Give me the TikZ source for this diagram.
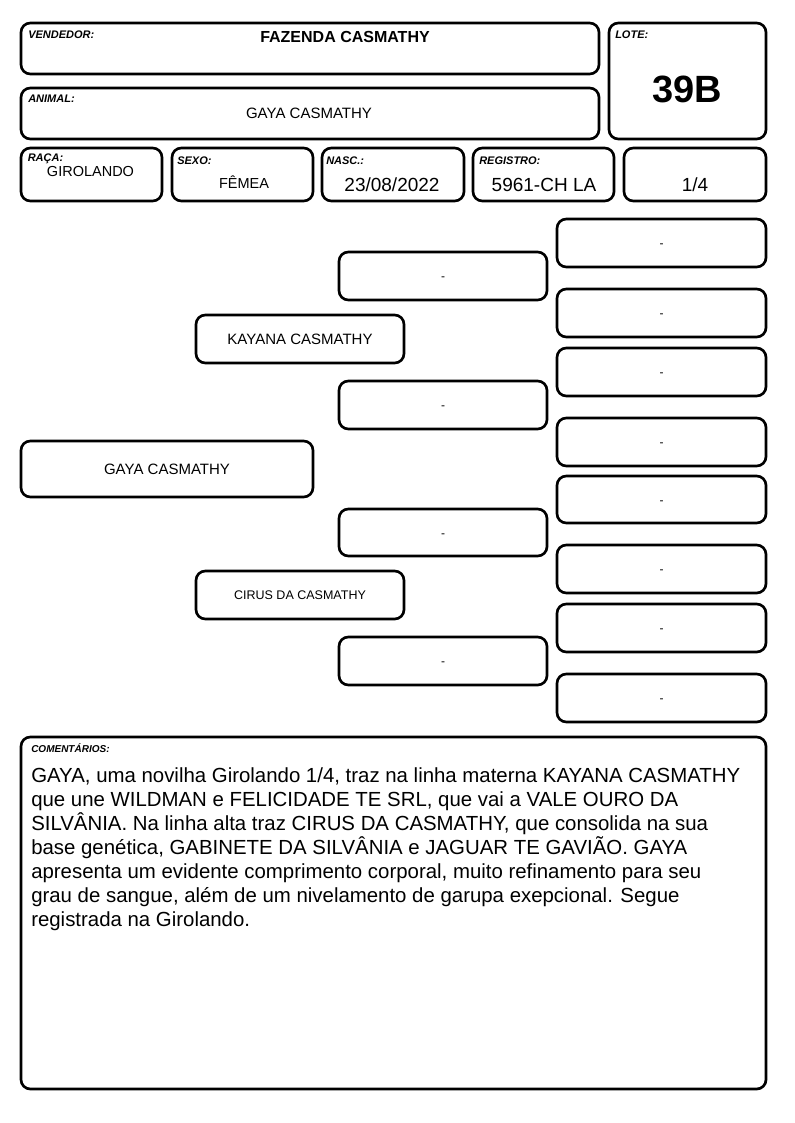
\documentclass[tikz,border=0pt]{standalone}
\usepackage{fontspec}
\setmainfont{Liberation Sans}
\newcommand\pxs[1]{\fontsize{\fpeval{#1*0.75}pt}{\fpeval{#1*0.9}pt}\selectfont}
\tikzset{
  box/.style={draw=black, line width=2pt, rounded corners=7pt},
  lbl/.style={anchor=base west, inner sep=0pt, font=\pxs{11}\bfseries\itshape},
  val/.style={anchor=base, inner sep=0pt, font=\pxs{15}},
  bigval/.style={anchor=base, inner sep=0pt, font=\pxs{19}},
  pedtext/.style={inner sep=0pt, font=\pxs{15}},
  emptyval/.style={anchor=base, inner sep=0pt, font=\pxs{12}},
}
% name, x1, y1, x2, y2, style, text
\newcommand\pedbox[7]{%
  \draw[box] (#2,#3) rectangle (#4,#5);
  \node[#6] (#1) at ({(#2+#4)/2},{(#3+#5)/2}) {#7};}
% empty box: name, x1, y1, x2, y2
\newcommand\emptybox[5]{%
  \draw[box] (#2,#3) rectangle (#4,#5);
  \node[emptyval] (#1) at ({(#2+#4)/2},{(#3+#5)/2+4.7}) {-};}
\begin{document}
\begin{tikzpicture}[x=0.75pt,y=-0.75pt]
\useasboundingbox (0,0) rectangle (794,1123);
% header boxes
\draw[box] (21,23) rectangle (599,74);
\node[lbl] (lvend) at (28,39) {VENDEDOR:};
\node[anchor=base, inner sep=0pt, font=\pxs{16}\bfseries] (vend) at (345,43) {FAZENDA CASMATHY};

\draw[box] (609,23) rectangle (766,139);
\node[lbl] (llote) at (615,39) {LOTE:};
\node[anchor=base, inner sep=0pt, font=\pxs{38}\bfseries] (lote) at (687,103) {39B};

\draw[box] (21,88) rectangle (599,139);
\node[lbl] (lanimal) at (28,103) {ANIMAL:};
\node[val] (animal) at (309,119) {GAYA CASMATHY};

% info row
\draw[box] (21,148) rectangle (162,201);
\node[lbl] (lraca) at (27.5,162) {RAÇA:};
\node[anchor=base, inner sep=0pt, font=\pxs{14.5}] (raca) at (90.5,177) {GIROLANDO};

\draw[box] (172,148) rectangle (313,201);
\node[lbl] (lsexo) at (177,165) {SEXO:};
\node[anchor=base, inner sep=0pt, font=\pxs{14.5}] (sexo) at (244,189) {FÊMEA};

\draw[box] (322,148) rectangle (464,201);
\node[lbl] (lnasc) at (326,165) {NASC.:};
\node[bigval] (nasc) at (392,192) {23/08/2022};

\draw[box] (473,148) rectangle (614,201);
\node[lbl] (lreg) at (479,165) {REGISTRO:};
\node[bigval] (reg) at (544,192) {5961-CH LA};

\draw[box] (624,148) rectangle (766,201);
\node[bigval] (grau) at (695,192) {1/4};

% pedigree
\pedbox{animalp}{21}{441}{313}{497}{pedtext}{GAYA CASMATHY}
\pedbox{mae}{196}{315}{404}{363}{pedtext}{KAYANA CASMATHY}
\pedbox{pai}{196}{571}{404}{619}{inner sep=0pt, font=\pxs{12.5}}{CIRUS DA CASMATHY}

\emptybox{avo1}{339}{252}{547}{300}
\emptybox{avo2}{339}{381}{547}{429}
\emptybox{avo3}{339}{509}{547}{556}
\emptybox{avo4}{339}{637}{547}{685}

\emptybox{bis1}{557}{219}{766}{267}
\emptybox{bis2}{557}{289}{766}{337}
\emptybox{bis3}{557}{348}{766}{396}
\emptybox{bis4}{557}{418}{766}{466}
\emptybox{bis5}{557}{476}{766}{523}
\emptybox{bis6}{557}{545}{766}{593}
\emptybox{bis7}{557}{604}{766}{652}
\emptybox{bis8}{557}{674}{766}{722}

% comments
\draw[box] (21,737) rectangle (766,1089);
\node[anchor=base west, inner sep=0pt, font=\pxs{10}\bfseries\itshape] (lcom) at (31,752) {COMENTÁRIOS:};
\node[anchor=north west, inner sep=0pt, align=left,
      font=\fontsize{15.3pt}{18pt}\selectfont] (com) at (31,767)
{GAYA, uma novilha Girolando 1/4, traz na linha materna KAYANA CASMATHY\\
que une WILDMAN e FELICIDADE TE SRL, que vai a VALE OURO DA\\
SILVÂNIA. Na linha alta traz CIRUS DA CASMATHY, que consolida na sua\\
base genética, GABINETE DA SILVÂNIA e JAGUAR TE GAVIÃO. GAYA\\
apresenta um evidente comprimento corporal, muito refinamento para seu\\
grau de sangue, além de um nivelamento de garupa exepcional. Segue\\
registrada na Girolando.};
\end{tikzpicture}
\end{document}
